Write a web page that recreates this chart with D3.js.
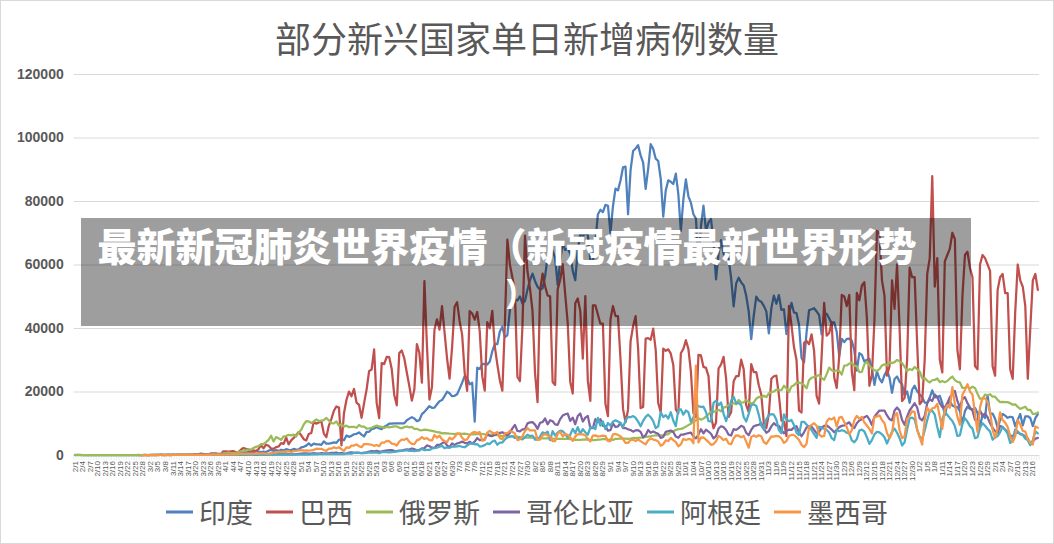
<!DOCTYPE html>
<html><head><meta charset="utf-8">
<script src="https://cdn.jsdelivr.net/npm/d3@7"></script>
<style>
html,body{margin:0;padding:0;background:#fff;}
svg{display:block;}
</style></head>
<body>
<svg id="chart" width="1054" height="544"></svg>
<script>
// ---------- DATA ----------
const title = "部分新兴国家单日新增病例数量";
const bannerLines = ["最新新冠肺炎世界疫情（新冠疫情最新世界形势", ")"];
const seriesNames = ["印度", "巴西", "俄罗斯", "哥伦比亚", "阿根廷", "墨西哥"];
const seriesColors = ["#4F81BD", "#C0504D", "#9BBB59", "#8064A2", "#4BACC6", "#F79646"];
const yTicks = [0, 20000, 40000, 60000, 80000, 100000, 120000];
const firstDay = "2020-02-01";   // categories: one per day, 2/1 .. 2/18
const dayCount = 384;

const india = [
// Feb
0,1,1,0,0,0,0,0,0,0, 0,0,0,0,0,0,0,0,0,0, 0,0,0,0,0,0,0,0,0,
// Mar
0,2,1,22,1,1,3,5,9,15, 8,10,10,22,23,8,24,19,23,54, 82,89,102,63,88,75,153,136,120,187,309,
// Apr
424,486,560,579,609,484,573,565,813,871, 854,758,1243,1031,886,1061,922,1371,1580,1239, 1537,1292,1667,1408,1835,1607,1568,1902,1705,1801,
// May
2396,2564,2952,3656,2971,3602,3344,3339,3175,4311, 3592,3562,3726,3991,3808,4794,5050,4628,6154,5720, 6023,6536,6667,7111,6414,5843,7293,7300,8105,8336,8782,
// Jun
8392,8171,8909,9304,9851,9887,9971,9983,9987,9985, 9996,10956,11458,11929,11502,10667,10974,12881,13586,14516, 15413,14821,14933,15968,16922,17296,18552,19906,19459,18522,
// Jul
18653,19148,20903,22771,24850,24248,22252,22752,10500,27500, 27114,28637,28701,28498,29429,32695,34956,34884,38902,40425, 37148,37724,45720,49310,48916,48661,49931,47703,48513,52123,55078,
// Aug
57118,54735,52972,52050,52509,56282,62538,61537,64399,62064, 53601,60963,66999,64553,65002,63490,57981,55079,64531,69652, 68898,69878,69239,61408,60975,67151,75760,77266,76472,78761,78512,
// Sep
69921,78357,83883,83341,86432,90632,90802,75809,89706,95735, 96551,97570,94372,92071,83809,90123,97894,96424,93337,92605, 86961,75083,83347,86508,86052,85362,88600,82170,70589,80472,
// Oct
86821,81484,79476,75829,74442,61267,72049,78524,70496,73272, 74383,66732,55342,63509,67708,63371,62212,61871,55722,46790, 54044,55838,54366,53370,50129,45148,36470,43893,49881,48648,48268,
// Nov
46963,45231,38310,46253,50209,47638,50356,45674,45903,38073, 44281,47905,44878,44684,41100,30548,29164,38617,45576,45882, 46232,45209,44059,37975,44376,44489,43082,41322,41810,38772,
// Dec
31118,36604,35551,36595,36652,36011,32981,26567,32080,31521, 29398,30006,30254,27071,22065,26382,24010,22890,25152,26624, 24337,19556,23950,24712,23067,22273,18732,20021,16432,20550,21822,
// Jan
20035,19079,18177,16504,16375,18088,20346,18139,18222,18645, 16311,12584,15968,16946,15590,15158,15144,13788,10064,13823, 15223,14545,14256,14849,13203,9102,12689,11666,18855,13083,13052,
// Feb 2021
11427,8635,11039,12899,12408,11713,12059,11831,9110,11067, 12923,9309,12143,12194,11649,9121,11610,12881
];

const brazil = [
// Feb
null,null,null,null,null,null,null,null,null,null, null,null,null,null,null,null,null,null,null,null, null,null,null,null,null,1,0,0,1,
// Mar
0,0,0,1,5,5,6,0,5,6, 18,25,21,23,79,34,57,137,193,283, 224,418,345,310,232,482,502,487,352,323,1138,
// Apr
1119,1074,1146,1222,852,926,1661,2210,1930,1781, 1089,1442,1261,1832,3058,2105,3257,2917,2055,1927, 2498,2678,3735,3503,5514,3379,4613,5385,6276,7218,
// May
6209,4970,4588,6633,6935,10503,9888,10222,10611,6760, 5632,9258,11385,13944,15305,14919,3000,13140,17408,19951, 18508,20803,16508,15813,11687,16324,20599,26417,26928,33274,16409,
// Jun
11598,28936,28633,30925,30830,27075,18912,15654,32091,32913, 30412,25982,21704,17110,20647,34918,32188,22765,54771,34666, 17459,21432,39436,42725,39483,46860,38693,30476,24052,33846,
// Jul
46712,48105,42223,37923,26051,20229,45305,44571,42619,45048, 39023,24831,20286,41857,39924,45403,34177,28532,23529,20257, 41008,67860,59961,55891,51147,24578,23284,40816,69074,57837,52383,
// Aug
45392,25800,16641,51603,57152,53139,50230,49970,23010,22048, 52160,55155,60091,50644,41576,23101,19373,47784,49298,45323, 30355,50032,23421,17078,47134,47161,44235,41350,41350,16158,12250,
// Sep
42659,46934,43773,43718,30168,14521,10273,14279,35816,40557, 43718,33523,14768,15155,36653,36820,36303,39797,33057,16389, 13439,33536,32817,33281,31911,28378,14318,13155,32058,33413,
// Oct
36157,33413,26310,13155,11946,31553,31362,27750,27444,24862, 12342,8426,10220,27235,28523,30914,24062,12006,13493,23227, 24818,24858,30026,26979,15726,13493,28629,26106,26106,21981,19000,
// Nov
10100,8500,12900,24000,24800,25000,18900,10900,10500,6000, 47000,41000,34000,30000,14000,13400,35300,35900,34900,38000, 32800,18600,16200,31100,47900,37600,38400,41900,24500,21100,
// Dec
31100,50400,49900,46900,50400,26300,20400,51100,48700,53400, 54400,43100,21800,25200,42400,70600,69800,55000,50200,25000, 28000,55000,46000,60000,40000,17000,18000,30000,59000,56000,56000,
// Jan
35000,16000,17000,30000,57000,62000,87800,53000,62000,30000, 26000,61000,63000,65000,70000,68000,33000,27000,50000,63000, 64000,59000,56000,28000,27000,60000,63000,62000,60000,58000,28000,
// Feb 2021
25000,52000,56000,57000,51000,51000,27000,24000,45000,60000, 55000,53000,47000,24000,40000,55000,57000,52000
];

const russia = [
// Feb
2,0,0,0,0,0,0,0,0,0, 0,0,0,0,0,0,0,0,0,0, 0,0,0,0,0,0,0,0,0,
// Mar
0,1,0,0,1,6,0,4,3,0, 8,6,11,14,16,27,33,52,52,54, 53,61,71,57,163,182,196,228,270,302,500,
// Apr
440,771,601,582,658,954,1154,1175,1459,1786, 1667,2186,2558,2774,3388,3448,4070,4785,6060,4268, 5642,5236,4774,5849,5966,6361,6198,6411,5841,7099,
// May
7933,9623,10633,10581,10102,10559,11231,10699,10817,11012, 11656,10899,10028,9974,10598,9200,9709,8926,9263,8764, 8849,8894,8599,9434,8946,8915,8338,8371,8572,8952,9268,
// Jun
9035,8863,8536,8831,8726,8855,8984,8985,8595,8404, 8779,8987,8706,8835,8246,8248,7843,7790,7972,7889, 7728,7600,7425,7176,7113,6800,6852,6791,6719,6693,
// Jul
6556,6760,6718,6632,6736,6611,6368,6562,6509,6635, 6611,6615,6537,6248,6422,6428,6406,6234,6109,5940, 5842,5862,5811,5848,5871,5765,5635,5395,5475,5509,5482,
// Aug
5462,5427,5159,5394,5204,5267,5241,5212,5189,5118, 5102,5057,5041,5065,5061,4969,4839,4748,4790,4785, 4870,4921,4852,4696,4676,4711,4829,4880,4980,4993,4729,
// Sep
4952,4729,5110,5110,5205,5195,5185,5099,5172,5363, 5310,5406,5449,5509,5670,5762,5905,6065,6148,6196, 6215,6234,6431,6595,7212,7523,7867,8135,8232,8481,
// Oct
8945,9412,9859,10499,10888,11615,11115,11493,12126,12846, 13634,13592,13868,14231,13754,14922,15150,15700,15982,16319, 15971,17340,16521,16550,17347,16710,16202,16550,17717,18283,18140,
// Nov
18665,18257,19404,19768,20000,20582,20498,20396,21798,20977, 19851,21608,21983,22702,22778,22572,21983,20977,23610,24318, 24581,24822,25173,24326,23675,25487,27543,26683,26338,26683,
// Dec
26402,25345,28145,28209,28782,29039,28142,27927,26097,26190, 28585,29350,28137,27328,26689,26509,27039,28214,28552,28209, 29258,28948,29258,29935,29499,28921,27787,26513,27039,26770,27747,
// Jan
27029,26301,24150,24246,23351,22851,23541,23652,24092,22934, 23309,22934,23315,24092,24715,23586,23002,22857,21127,21152, 21513,20921,21513,21127,19290,17741,17648,19032,18815,19138,18359,
// Feb 2021
18359,17367,16643,16714,16688,16643,16310,15846,15977,15166, 14494,14861,15216,14185,14185,12948,12948,13433
];

const colombia = [
// Feb
null,null,null,null,null,null,null,null,null,null, null,null,null,null,null,null,null,null,null,null, null,null,null,null,null,null,null,null,null,
// Mar
null,null,null,null,null,1,0,0,2,0, 6,0,4,8,10,30,10,27,15,35, 52,35,96,72,92,21,48,117,94,96,96,
// Apr
108,163,98,90,136,131,42,170,117,219, 274,72,89,78,162,218,58,224,171,184, 195,257,212,269,217,244,193,222,293,355,
// May
429,497,476,401,407,589,474,424,594,502, 530,498,646,682,735,525,640,468,539,722, 831,670,722,637,618,755,815,1046,1262,1133,1294,
// Jun
1070,1141,1337,1422,1557,1515,1290,1201,1380,1400, 1650,1807,1706,2056,1843,1468,1637,2057,2164,3026, 2744,2314,2223,3171,3178,3664,4163,3041,2453,3651,
// Jul
3178,3658,3870,4213,3842,3641,4163,3594,4221,5335, 4671,4760,4892,6671,5989,5963,6322,6701,6974,7123, 6848,6114,6957,8377,9493,7575,7456,8052,8150,9962,10284,
// Aug
10365,9579,8209,10167,10365,11496,9668,10953,10611,9640, 9483,11286,12425,12830,13056,10735,11741,9671,12288,13056, 10541,11790,12330,8435,8442,11286,10333,11286,9178,9109,7646,
// Sep
7808,9958,8813,9008,10075,8478,8493,8069,7865,7355, 7793,7813,7287,5573,6225,7878,7007,7401,7020,6678, 5376,5661,7310,7528,7721,7225,5794,5417,6417,6431,
// Oct
6698,6880,7026,5849,5229,6430,8142,6809,8004,7373, 6697,5229,5931,8333,9058,8770,7893,6397,6134,8125, 7934,8469,9206,8845,6979,6214,7936,9058,9316,9524,10000,
// Nov
8376,7003,7526,9013,10049,9290,9196,7930,6813,7577, 8002,7913,8686,9058,7096,5924,7149,8687,9130,8934, 7930,6813,7236,8706,9174,9300,8734,8011,7163,7889,
// Dec
8779,9174,9300,9816,10294,9048,8497,9976,10910,11264, 11888,12325,11196,9476,12080,13056,13990,13990,14012,12470, 11264,10910,14012,14941,13990,11000,9500,12080,14012,15130,16314,
// Jan
14941,11528,10943,12325,16314,17576,17022,19004,18228,16314, 15049,15000,16314,18228,19004,20160,17022,14941,17576,18228, 16314,15000,14012,11000,10943,13990,12470,13056,11888,9976,8497,
// Feb 2021
7526,7002,9174,8734,8011,7163,6103,5924,6800,7149, 6600,6400,5800,5200,3800,4300,5100,5400
];

const argentina = [
// Feb
null,null,null,null,null,null,null,null,null,null, null,null,null,null,null,null,null,null,null,null, null,null,null,null,null,null,null,null,null,
// Mar
null,null,1,0,0,1,6,1,4,2, 2,12,3,3,11,9,9,14,18,31, 30,67,41,36,86,87,101,101,75,146,54,
// Apr
132,98,115,100,114,105,123,87,81,145, 99,81,117,97,67,77,143,110,156,134, 104,188,111,167,149,91,90,158,122,144,
// May
111,104,170,151,165,245,163,240,282,255, 240,258,316,285,255,345,313,256,471,474, 392,648,704,718,554,562,702,795,733,732,795,
// Jun
564,904,949,929,840,930,983,1141,1226,1386, 1391,1531,1282,1384,1208,1374,1393,1958,1531,1634, 1581,2060,2146,2285,2606,2886,2189,2401,2262,2667,
// Jul
2632,2744,2845,2590,2439,2979,3604,3663,3367,3449, 2657,2805,3099,3645,3449,4250,4518,3223,3937,3937, 4890,5493,5782,5929,5361,5379,5359,4902,5641,6377,5929,
// Aug
6134,4824,4824,5771,7147,6792,7369,4688,7498,6130, 7043,7663,7498,6663,5488,6365,8225,6840,8771,6693, 8159,7187,6365,8713,8771,8159,11717,9230,10550,8159,10104,
// Sep
9230,10504,10933,10550,10104,8713,10933,12027,11905,12259, 11717,10504,9056,10776,12027,12701,11905,10642,8431,9056, 13467,11945,12569,11484,13477,10776,9085,14392,14392,12701,
// Oct
14001,13477,10502,11807,14740,15454,15099,15218,13561,10642, 10561,16447,17096,15708,16546,12982,10642,13379,17096,18326, 16337,16325,15718,11968,10561,12982,15718,15936,15454,12701,9229,
// Nov
8049,11223,12545,12848,12701,11100,7826,6850,12801,11223, 10650,11051,9468,7026,6273,10431,10431,9581,8902,7893, 6546,5400,8902,8561,8295,7893,7100,5300,4700,7900,
// Dec
7500,7800,7600,7000,6800,4600,4000,5000,7700,8000, 7400,5600,3500,4700,6500,7300,7100,6500,5600,3600, 5500,7300,8300,7000,5300,3000,4000,8000,11500,11800,11200,
// Jan
8000,5800,5000,7700,11000,13800,13900,12700,8800,5600, 11200,13600,12600,11600,10700,9100,6000,6200,9800,11600, 10500,9100,8300,5300,5600,8500,10000,9200,8200,7400,4800,
// Feb 2021
5600,5900,7200,8900,7900,6700,3800,4800,8100,7400, 6600,6300,5200,4600,3100,4600,7400,6800
];

const mexico = [
// Feb
null,null,null,null,null,null,null,null,null,null, null,null,null,null,null,null,null,null,null,null, null,null,null,null,null,null,null,1,3,
// Mar
0,0,1,0,0,1,0,0,0,2, 4,4,4,15,12,29,11,39,25,45, 39,48,65,51,71,70,108,132,139,155,121,
// Apr
163,225,178,253,202,296,396,296,402,405, 442,349,419,450,486,493,448,433,578,764, 729,1033,1000,1089,970,1227,835,1223,1292,1425,
// May
1515,1349,1434,1383,1434,1609,1982,1906,1938,1562, 1305,1997,1992,2409,2112,2437,1833,1305,2414,2248, 2973,2960,3329,2764,2463,3455,3463,3377,3227,2885,3152,
// Jun
2771,3891,3912,4442,4346,3593,3484,2999,4199,4883, 4790,5222,4147,3494,3427,4599,4930,5662,5030,5343, 4717,4577,6288,5441,6104,4890,4410,4050,5432,4902,
// Jul
5681,6741,6740,5432,4683,4902,6258,6995,7280,6891, 7221,4482,4685,7051,7615,7051,6751,7257,5311,4956, 6859,6859,7573,7230,6751,4671,4973,5869,7548,8458,7730,
// Aug
7730,7730,4767,4853,6148,6590,6139,5798,4376,4376, 6686,7371,5858,6590,6345,5618,4448,5792,6590,6482, 6482,6207,5094,4275,6139,6196,5824,5937,6125,5974,4406,
// Sep
4406,6476,6611,6341,5874,5030,3792,3781,4771,4771, 4408,4864,4367,3828,3335,4619,5252,4855,4683,4239, 2917,3400,4631,4408,5408,4683,4051,2751,3351,5053,
// Oct
4740,5053,4917,3712,28115,3986,5447,5514,4828,4070, 3208,3433,4295,6047,5460,4683,5135,3640,3370,5250, 6189,6079,5568,6025,4200,2300,5700,6166,5700,6222,5887,
// Nov
4100,3500,4700,5900,5800,6000,5900,5200,3800,4400, 6000,6300,6300,5600,4700,3200,2500,3500,8800,9500, 10000,9200,6500,5800,6000,10500,11500,11200,11800,9000,
// Dec
11800,12000,10400,8800,6500,7800,11000,12300,11400,12000, 10200,9300,8200,6800,12000,12100,12500,11000,10000,6900, 5300,6900,12300,13200,7800,5300,5900,11300,12400,13800,13500,
// Jan
7800,5600,3300,11000,14900,13700,14700,14900,16100,12000, 8200,14300,15700,14900,21400,16000,12000,9500,19000,20500, 22300,20000,19000,13000,7300,15000,18000,17800,16800,13600,8000,
// Feb 2021
5400,8400,13400,11000,10200,8800,5900,4100,5900,11000, 9600,7600,7400,4900,4000,3300,9000,8600
];

const seriesValues = [india, brazil, russia, colombia, argentina, mexico];

// ---------- DRAW ----------
const svg = d3.select("#chart");
const W = 1054, H = 544;
const plot = {left: 73.7, right: 1039.1, top: 74, bottom: 455};
const textGray = "#595959";
const gridGray = "#d9d9d9";

svg.append("rect").attr("x",0.5).attr("y",0.5).attr("width",W-1).attr("height",H-1)
  .attr("fill","#fff").attr("stroke","#d9d9d9");

const start = d3.timeParse("%Y-%m-%d")(firstDay);
const days = d3.range(dayCount).map(i => d3.timeDay.offset(start, i));
const fmt = d3.timeFormat("%-m/%-d");

const x = d3.scalePoint().domain(d3.range(dayCount)).range([plot.left, plot.right]).padding(0.5);
const step = x.step();
const y = d3.scaleLinear().domain([0, 120000]).range([plot.bottom, plot.top]);

// title
svg.append("text").attr("x", 527).attr("y", 53).attr("text-anchor","middle")
  .attr("font-family","'Noto Sans CJK SC','Noto Sans',sans-serif").attr("font-size",36)
  .attr("font-weight",400).attr("fill",textGray).text(title);

// gridlines + y labels
const yAxis = d3.axisLeft(y).tickValues(yTicks).tickSize(-(plot.right-plot.left)).tickPadding(10).tickFormat(d3.format("d"));
const gy = svg.append("g").attr("transform",`translate(${plot.left},0)`).call(yAxis);
gy.select(".domain").remove();
gy.selectAll(".tick line").attr("stroke",gridGray).attr("stroke-width",1);
gy.selectAll(".tick text").attr("fill",textGray).attr("font-size",14).attr("font-weight","bold")
  .attr("font-family","'Liberation Sans',Arial,sans-serif");

// x axis
const gx = svg.append("g").attr("transform",`translate(0,${plot.bottom})`);
gx.append("line").attr("x1",plot.left).attr("x2",plot.right).attr("y1",0.5).attr("y2",0.5).attr("stroke",gridGray);
gx.selectAll("line.tk").data(d3.range(dayCount+1)).join("line").attr("class","tk")
  .attr("x1",i => plot.left + i*step).attr("x2",i => plot.left + i*step)
  .attr("y1",0).attr("y2",5).attr("stroke","#e2e2e2").attr("stroke-width",0.6);
gx.selectAll("text").data(d3.range(0, dayCount, 3)).join("text")
  .attr("transform", i => `translate(${x(i)},6) rotate(-90)`)
  .attr("text-anchor","end").attr("dy","0.32em")
  .attr("font-family","'Liberation Sans',Arial,sans-serif").attr("font-size",8)
  .attr("fill",textGray).text(i => fmt(days[i]));

// lines
const line = d3.line().defined(d => d != null).x((d,i) => x(i)).y(d => y(d));
const gl = svg.append("g");
seriesValues.forEach((vals, k) => {
  gl.append("path").datum(vals).attr("d", line).attr("fill","none")
    .attr("stroke", seriesColors[k]).attr("stroke-width",2.25)
    .attr("stroke-linejoin","round").attr("stroke-linecap","round");
});

// legend
const legFont = 27, lineLen = 27, gapLT = 6, gapItem = 13;
const widths = seriesNames.map(n => lineLen + gapLT + n.length*legFont);
const total = d3.sum(widths) + gapItem*(seriesNames.length-1);
let lx = 527 - total/2;
const gLeg = svg.append("g");
seriesNames.forEach((n,k) => {
  gLeg.append("line").attr("x1",lx).attr("x2",lx+lineLen).attr("y1",512).attr("y2",512)
    .attr("stroke",seriesColors[k]).attr("stroke-width",3);
  gLeg.append("text").attr("x",lx+lineLen+gapLT).attr("y",523)
    .attr("font-family","'Noto Sans CJK SC',sans-serif").attr("font-size",legFont)
    .attr("fill",textGray).text(n);
  lx += widths[k] + gapItem;
});

// banner overlay
svg.append("rect").attr("x",81).attr("y",218).attr("width",890).attr("height",108)
  .attr("fill","#000").attr("fill-opacity",0.38);
svg.append("text").attr("x",507).attr("y",260.5).attr("text-anchor","middle")
  .attr("font-family","'Noto Sans CJK SC',sans-serif").attr("font-size",39).attr("font-weight",900)
  .attr("fill","#fff").text(bannerLines[0]);
svg.append("text").attr("x",512).attr("y",302).attr("text-anchor","middle")
  .attr("font-family","'Liberation Sans',Arial,sans-serif").attr("font-size",32).attr("font-weight",700)
  .attr("fill","#fff").text(bannerLines[1]);
</script>
</body></html>
